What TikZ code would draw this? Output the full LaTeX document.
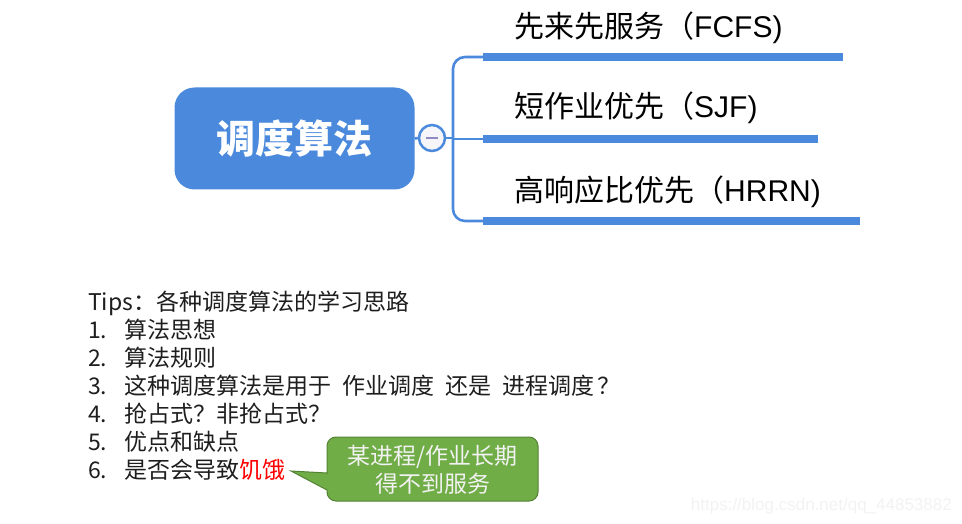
\documentclass[tikz,border=0pt]{standalone}
\usepackage{fontspec}
\setmainfont{Noto Sans CJK SC}
\newfontfamily\wmfont{Liberation Sans}
\newfontfamily\latinlab{Liberation Sans}
\definecolor{mblue}{RGB}{74,137,220}
\definecolor{circfill}{RGB}{246,246,250}
\definecolor{minuscol}{RGB}{140,140,195}
\definecolor{cgreen}{RGB}{112,173,71}
\definecolor{cgreenb}{RGB}{84,130,53}
\definecolor{ctext}{RGB}{242,242,242}
\definecolor{tiptext}{RGB}{30,30,30}
\definecolor{wm}{RGB}{242,242,242}
\newcommand{\gap}{\hspace{11pt}}
\tikzset{
  rootbox/.style={fill=mblue, draw=none, rounded corners=20pt, minimum width=240pt, minimum height=102pt,
    text=white, font=\fontsize{39}{44}\selectfont\bfseries, inner sep=0pt},
  togglec/.style={circle, draw=mblue, line width=2.5pt, fill=circfill, minimum size=26pt, inner sep=0pt},
  thinlink/.style={draw=mblue, line width=2.6pt},
  bar/.style={draw=mblue, line width=8pt},
  branchlabel/.style={anchor=base west, inner sep=0pt, text=black, font=\fontsize{30}{34}\selectfont},
  tipline/.style={anchor=base west, inner sep=0pt, text=tiptext, font=\fontsize{23}{27}\selectfont},
  calltext/.style={align=center, text=ctext, inner sep=0pt, font=\fontsize{23}{28}\selectfont},
}
\begin{document}
\begin{tikzpicture}[x=1pt,y=-1pt]
\useasboundingbox (0,0) rectangle (962,524);
% root
\node[rootbox] (root) at (294.5,138.5) {调度算法};
\node[togglec] (tog) at (432,138) {};
\draw[minuscol, line width=1.6pt] (426,138) -- (438,138);
% connectors
\coordinate (j) at (453,138);
\coordinate (b1) at (483,57);
\coordinate (b2) at (483,139);
\coordinate (b3) at (483,221);
\coordinate (e1) at (843,57);
\coordinate (e2) at (818,139);
\coordinate (e3) at (860,221);
\draw[thinlink] (root.east) -- (tog.west);
\draw[thinlink] (tog.east) -- (j);
\draw[thinlink, rounded corners=12pt] (b1) -- (453,57) -- (453,221) -- (b3);
\draw[thinlink] (453,139) -- (b2);
\draw[bar] (b1) -- (e1);
\draw[bar] (b2) -- (e2);
\draw[bar] (b3) -- (e3);
% branch labels
\node[branchlabel] (l1) at (514,37.5) {先来先服务（{\latinlab FCFS)}};
\node[branchlabel] (l2) at (514,117.5) {短作业优先（{\latinlab SJF)}};
\node[branchlabel] (l3) at (514,201.5) {高响应比优先（{\latinlab HRRN)}};
% tips
\node[tipline] (t0) at (88,310) {Tips：各种调度算法的学习思路};
\node[tipline] (n1) at (88,338) {1.};
\node[tipline] (t1) at (124,338) {算法思想};
\node[tipline] (n2) at (88,366) {2.};
\node[tipline] (t2) at (124,366) {算法规则};
\node[tipline] (n3) at (88,394) {3.};
\node[tipline] (t3) at (124,394) {这种调度算法是用于\gap 作业调度\gap 还是\gap 进程调度\hspace{3pt}？};
\node[tipline] (n4) at (88,422) {4.};
\node[tipline] (t4) at (124,422) {抢占式？非抢占式？};
\node[tipline] (n5) at (88,450) {5.};
\node[tipline] (t5) at (124,450) {优点和缺点};
\node[tipline] (n6) at (88,478) {6.};
\node[tipline] (t6) at (124,478) {是否会导致\textcolor{red}{饥饿}};
% callout
\coordinate (tip) at (291,471);
\draw[fill=cgreen, draw=cgreenb, line width=1pt]
  (327,473) -- (tip) -- (327,490) [rounded corners=9pt] -- (327,501) -- (538,501) -- (538,437) -- (327,437) [sharp corners] -- cycle;
\node[calltext] (call) at (432.5,470) {某进程/作业长期\\得不到服务};
% watermark
\node[anchor=east, inner sep=0pt, text=wm, font=\wmfont\fontsize{17}{20}\selectfont] (wmk) at (952,506) {https://blog.csdn.net/qq\_44853882};
\end{tikzpicture}
\end{document}
